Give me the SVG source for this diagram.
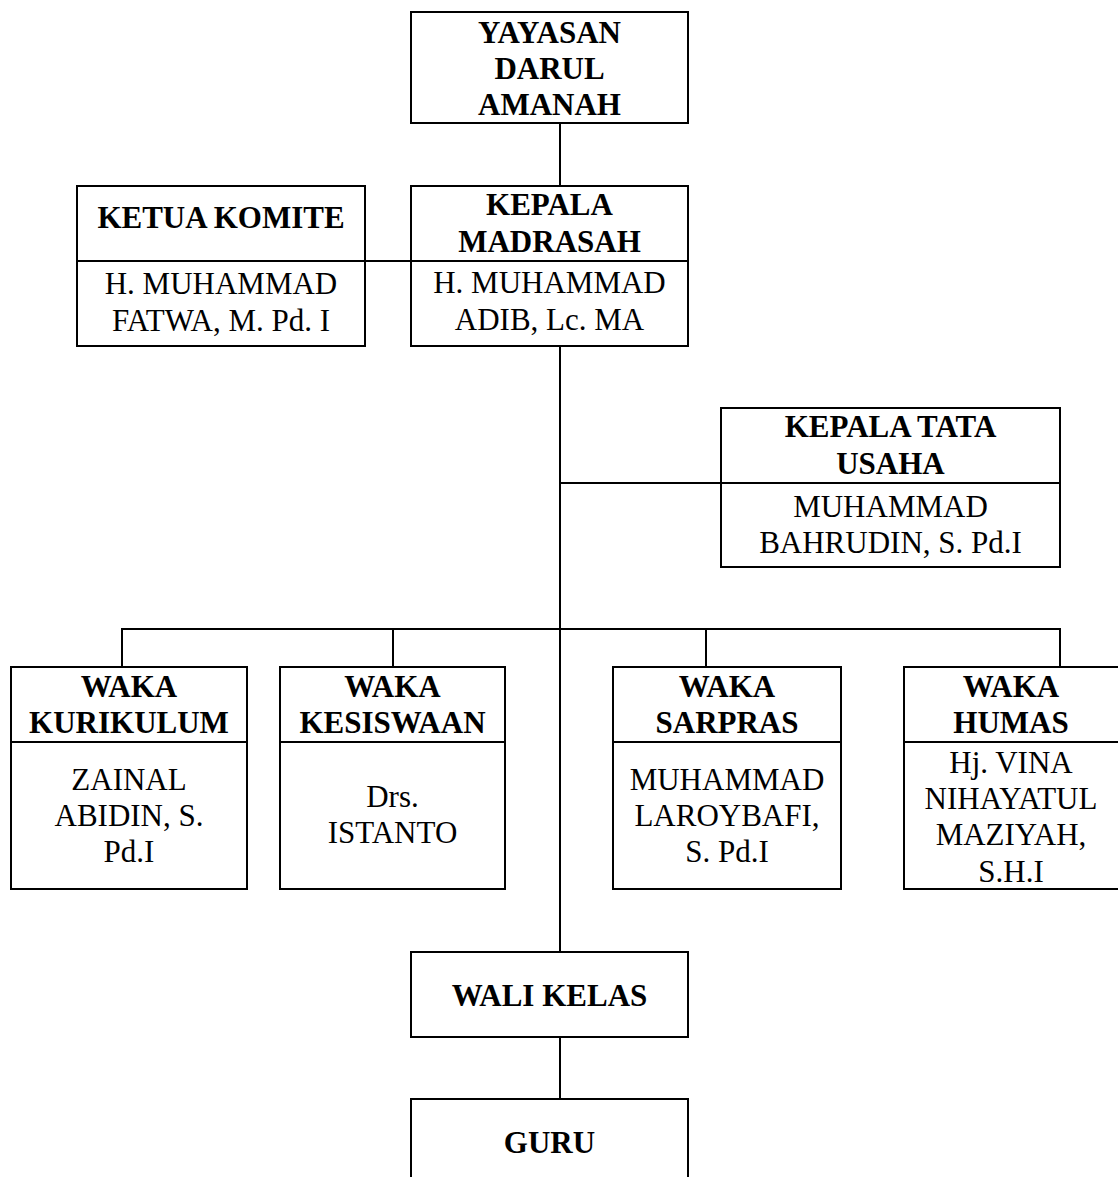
<svg xmlns="http://www.w3.org/2000/svg" width="1118" height="1177" viewBox="0 0 1118 1177">
<style>
.box{fill:#fff;stroke:#000;stroke-width:2}
.ln{stroke:#000;stroke-width:2;fill:none}
text{font-family:"Liberation Serif","Times New Roman",serif;font-size:31px;fill:#000;text-anchor:middle}
.b{font-weight:bold}
</style>
<rect width="1118" height="1177" fill="#fff"/>
<g id="connectors">
<line class="ln" x1="560" y1="123" x2="560" y2="186"/>
<line class="ln" x1="365" y1="261" x2="411" y2="261"/>
<line class="ln" x1="560" y1="346" x2="560" y2="952"/>
<line class="ln" x1="560" y1="483" x2="721" y2="483"/>
<polyline class="ln" points="122,667 122,629 1060,629 1060,667"/>
<line class="ln" x1="393" y1="629" x2="393" y2="667"/>
<line class="ln" x1="706" y1="629" x2="706" y2="667"/>
<line class="ln" x1="560" y1="1037" x2="560" y2="1099"/>
</g>
<g id="yayasan">
<rect class="box" x="411" y="12" width="277" height="111"/>
<text class="b" x="549.5" y="43">YAYASAN</text>
<text class="b" x="549.5" y="79">DARUL</text>
<text class="b" x="549.5" y="115">AMANAH</text>
</g>
<g id="ketua-komite">
<rect class="box" x="77" y="186" width="288" height="160"/>
<line class="ln" x1="77" y1="261" x2="365" y2="261"/>
<text class="b" x="221" y="228">KETUA KOMITE</text>
<text x="221" y="294">H. MUHAMMAD</text>
<text x="221" y="331">FATWA, M. Pd. I</text>
</g>
<g id="kepala-madrasah">
<rect class="box" x="411" y="186" width="277" height="160"/>
<line class="ln" x1="411" y1="261" x2="688" y2="261"/>
<text class="b" x="549.5" y="215">KEPALA</text>
<text class="b" x="549.5" y="252">MADRASAH</text>
<text x="549.5" y="293">H. MUHAMMAD</text>
<text x="549.5" y="330">ADIB, Lc. MA</text>
</g>
<g id="kepala-tu">
<rect class="box" x="721" y="408" width="339" height="159"/>
<line class="ln" x1="721" y1="483" x2="1060" y2="483"/>
<text class="b" x="890.5" y="437">KEPALA TATA</text>
<text class="b" x="890.5" y="474">USAHA</text>
<text x="890.5" y="517">MUHAMMAD</text>
<text x="890.5" y="553">BAHRUDIN, S. Pd.I</text>
</g>
<g id="waka-kurikulum">
<rect class="box" x="11" y="667" width="236" height="222"/>
<line class="ln" x1="11" y1="742" x2="247" y2="742"/>
<text class="b" x="129" y="697">WAKA</text>
<text class="b" x="129" y="733">KURIKULUM</text>
<text x="129" y="790">ZAINAL</text>
<text x="129" y="826">ABIDIN, S.</text>
<text x="129" y="862">Pd.I</text>
</g>
<g id="waka-kesiswaan">
<rect class="box" x="280" y="667" width="225" height="222"/>
<line class="ln" x1="280" y1="742" x2="505" y2="742"/>
<text class="b" x="392.5" y="697">WAKA</text>
<text class="b" x="392.5" y="733">KESISWAAN</text>
<text x="392.5" y="807">Drs.</text>
<text x="392.5" y="843">ISTANTO</text>
</g>
<g id="waka-sarpras">
<rect class="box" x="613" y="667" width="228" height="222"/>
<line class="ln" x1="613" y1="742" x2="841" y2="742"/>
<text class="b" x="727" y="697">WAKA</text>
<text class="b" x="727" y="733">SARPRAS</text>
<text x="727" y="790">MUHAMMAD</text>
<text x="727" y="826">LAROYBAFI,</text>
<text x="727" y="862">S. Pd.I</text>
</g>
<g id="waka-humas">
<rect class="box" x="904" y="667" width="218" height="222"/>
<line class="ln" x1="904" y1="742" x2="1122" y2="742"/>
<text class="b" x="1011" y="697">WAKA</text>
<text class="b" x="1011" y="733">HUMAS</text>
<text x="1011" y="773">Hj. VINA</text>
<text x="1011" y="809">NIHAYATUL</text>
<text x="1011" y="845">MAZIYAH,</text>
<text x="1011" y="882">S.H.I</text>
</g>
<g id="wali-kelas">
<rect class="box" x="411" y="952" width="277" height="85"/>
<text class="b" x="549.5" y="1006">WALI KELAS</text>
</g>
<g id="guru">
<rect class="box" x="411" y="1099" width="277" height="100"/>
<text class="b" x="549.5" y="1153">GURU</text>
</g>
</svg>
